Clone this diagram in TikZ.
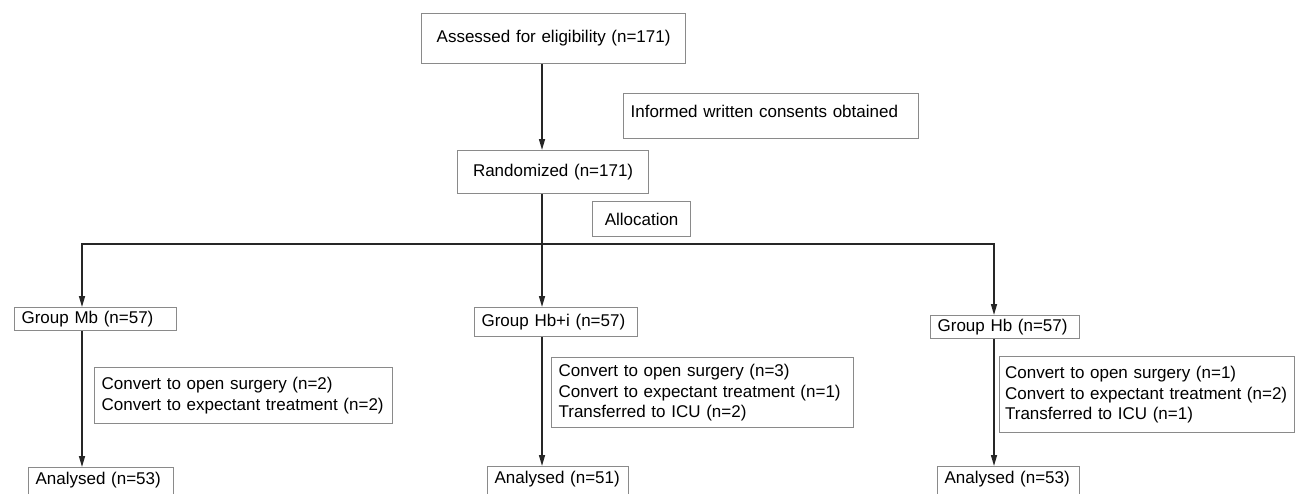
\documentclass[tikz,border=0pt]{standalone}
\usepackage{fontspec}
\setmainfont{Liberation Sans}
\usetikzlibrary{arrows.meta}
\definecolor{boxgray}{HTML}{8A8A8A}
\definecolor{linedark}{HTML}{262626}

\begin{document}
\begin{tikzpicture}[
    x=1pt, y=-1pt,
    box/.style={draw=boxgray, line width=1.2pt, anchor=north west, align=left,
      inner xsep=7pt, inner ysep=3pt, font=\fontsize{17pt}{20.5pt}\selectfont},
    flow/.style={-{Triangle[length=11pt,width=6pt]}, draw=linedark, line width=1.5pt},
    line/.style={draw=linedark, line width=1.5pt},
  ]
  \useasboundingbox (0,0) rectangle (1297,493);
  \clip (0,0) rectangle (1297,493);

  \node[box, align=center, text width=250pt, minimum height=50pt] (assess) at (421,13)
    {Assessed for eligibility (n=171)};
  \node[box, text width=281pt, inner xsep=7pt, inner ysep=11pt, text height=12.5pt, text depth=10pt] (consent) at (623,93)
    {Informed written consents obtained};
  \node[box, align=center, text width=177pt, minimum height=43pt] (random) at (457,150)
    {Randomized (n=171)};
  \node[box, align=center, text width=84pt, minimum height=35pt] (alloc) at (592,201)
    {Allocation};

  % the three arms
  \node[box, text width=148pt, minimum height=23pt] (mb)  at (14,307)  {Group Mb (n=57)};
  \node[box, text width=149pt, minimum height=29pt] (hbi) at (474,307) {Group Hb+i (n=57)};
  \node[box, text width=135pt, minimum height=23pt] (hb)  at (930,315) {Group Hb (n=57)};

  \node[box, text width=284pt, minimum height=56pt] (mbconv) at (94,367)
    {Convert to open surgery (n=2)\\ Convert to expectant treatment (n=2)};
  \node[box, text width=288pt, minimum height=70pt] (hbiconv) at (551,357)
    {Convert to open surgery (n=3)\\ Convert to expectant treatment (n=1)\\ Transferred to ICU (n=2)};
  \node[box, text width=284pt, inner xsep=5.5pt, minimum height=76pt] (hbconv) at (999,356)
    {Convert to open surgery (n=1)\\ Convert to expectant treatment (n=2)\\ Transferred to ICU (n=1)};

  \node[box, text width=131pt, inner ysep=4pt, text height=12.5pt, text depth=30pt] (mban)  at (28,467)  {Analysed (n=53)};
  \node[box, text width=127pt, inner ysep=4pt, text height=12.5pt, text depth=30pt] (hbian) at (487,466) {Analysed (n=51)};
  \node[box, text width=128pt, inner ysep=4pt, text height=12.5pt, text depth=30pt] (hban)  at (937,466) {Analysed (n=53)};

  \coordinate (split) at (542,244);
  \coordinate (colA)  at (82,244);
  \coordinate (colC)  at (994,244);

  \draw[flow] (assess.south -| split) -- (random.north -| split);
  \draw[flow] (random.south -| split) -- (hbi.north -| split);
  \draw[flow] (split) -- (colA) -- (mb.north -| colA);
  \draw[flow] (split) -- (colC) -- (hb.north -| colC);

  \draw[flow] (mb.south -| colA)   -- (mban.north -| colA);
  \draw[flow] (hbi.south -| split) -- (hbian.north -| split);
  \draw[flow] (hb.south -| colC)   -- (hban.north -| colC);
\end{tikzpicture}
\end{document}
